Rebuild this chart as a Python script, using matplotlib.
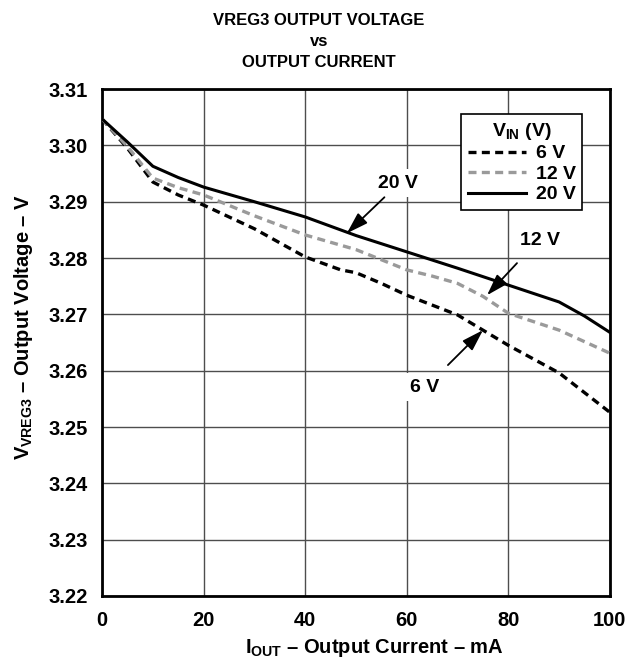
import numpy as np
import matplotlib
matplotlib.use('Agg')
import matplotlib.pyplot as plt

plt.rcParams.update({
    'font.family': ['Liberation Sans', 'DejaVu Sans'],
    'font.weight': 'bold',
    'axes.labelweight': 'bold',
    'mathtext.fontset': 'custom',
    'mathtext.rm': 'Liberation Sans:bold',
    'mathtext.it': 'Liberation Sans:bold',
    'mathtext.bf': 'Liberation Sans:bold',
})

i_6v = [0, 5, 10, 15, 20, 30, 40, 47, 50, 55, 60, 70, 80, 90, 100]
v_6v = [3.3047, 3.2995, 3.2935, 3.2912, 3.2894, 3.2852, 3.2802, 3.2779, 3.2774,
        3.2755, 3.2734, 3.2699, 3.2645, 3.2596, 3.2526]

i_12v = [0, 5, 10, 15, 20, 30, 40, 50, 60, 65, 70, 75, 80, 90, 100]
v_12v = [3.3047, 3.2998, 3.2942, 3.2925, 3.2912, 3.2875, 3.2841, 3.2815, 3.2779,
         3.2768, 3.2755, 3.2732, 3.2702, 3.2672, 3.2631]

i_20v = [0, 5, 10, 15, 20, 30, 40, 50, 60, 70, 80, 90, 95, 100]
v_20v = [3.3047, 3.3006, 3.2963, 3.2943, 3.2926, 3.2900, 3.2873, 3.2840, 3.2811,
         3.2782, 3.2752, 3.2722, 3.2697, 3.2668]

x_ticks = [0, 20, 40, 60, 80, 100]
y_ticks = [3.22, 3.23, 3.24, 3.25, 3.26, 3.27, 3.28, 3.29, 3.30, 3.31]

fig = plt.figure(figsize=(6.38, 6.6), dpi=100)
ax = fig.add_axes([0.160, 0.097, 0.796, 0.768])

ax.plot(i_6v, v_6v, color='black', lw=2.4, ls=(0, (2.4, 1.6)), label='6 V', zorder=3)
ax.plot(i_12v, v_12v, color='#9a9a9a', lw=2.4, ls=(0, (2.4, 1.6)), label='12 V', zorder=3)
ax.plot(i_20v, v_20v, color='black', lw=2.2, label='20 V', zorder=3)

ax.set_xlim(0, 100)
ax.set_ylim(3.22, 3.31)
ax.set_xticks(x_ticks)
ax.set_yticks(y_ticks)
ax.set_yticklabels([f'{v:.2f}' for v in y_ticks])
ax.tick_params(length=0, labelsize=14.5)
ax.tick_params(axis='y', pad=10)
ax.tick_params(axis='x', pad=11)
ax.grid(True, color='0.3', lw=1.0)
ax.set_axisbelow(True)
for s in ax.spines.values():
    s.set_linewidth(2)

ax.set_xlabel(r'$I_{OUT}$ – Output Current – mA', fontsize=14.5)
ax.xaxis.set_label_coords(0.537, -0.08)
ax.set_ylabel(r'$V_{VREG3}$ – Output Voltage – V', fontsize=14.5)
ax.yaxis.set_label_coords(-0.133, 0.53)
fig.text(0.5, 0.98, 'VREG3 OUTPUT VOLTAGE\nvs\nOUTPUT CURRENT', ha='center', va='top',
         fontsize=12, fontweight='bold', linespacing=1.5)

leg = ax.legend(loc='upper right', bbox_to_anchor=(0.965, 0.97), title=r'$V_{IN}$ (V)',
                fontsize=14, title_fontsize=14, frameon=True, fancybox=False,
                edgecolor='black', handlelength=3.0, borderpad=0.35,
                labelspacing=0.15, handletextpad=0.5)
leg.get_frame().set_linewidth(1.2)
leg.get_frame().set_alpha(1)
leg.set_zorder(5)

arrow = dict(arrowstyle='-|>,head_length=1.1,head_width=0.35', color='black',
             lw=1.3, mutation_scale=12, shrinkA=0, shrinkB=0)
box = dict(facecolor='white', edgecolor='none', pad=4)

ax.text(58.3, 3.2933, '20 V', ha='center', va='center', fontsize=14, bbox=box, zorder=4)
ax.annotate('', xy=(48.2, 3.2844), xytext=(55.6, 3.2908), arrowprops=arrow, zorder=4)

ax.text(86.2, 3.2832, '12 V', ha='center', va='center', fontsize=14, bbox=box, zorder=4)
ax.annotate('', xy=(75.8, 3.2734), xytext=(81.7, 3.2791), arrowprops=arrow, zorder=4)

ax.text(63.6, 3.2571, '6 V', ha='center', va='center', fontsize=14, bbox=box, zorder=4)
ax.annotate('', xy=(75.0, 3.2672), xytext=(68.1, 3.2610), arrowprops=arrow, zorder=4)

fig.savefig('out.png', dpi=100)
